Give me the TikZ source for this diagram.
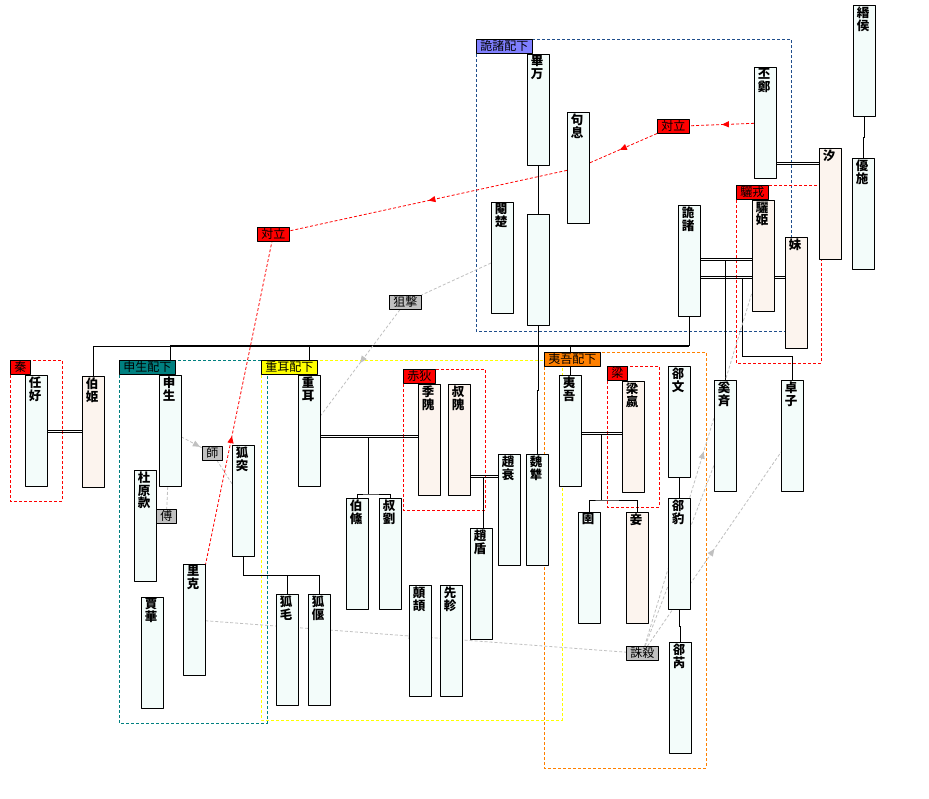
\documentclass[tikz,border=0pt]{standalone}
\usepackage{fontspec}
\newfontfamily\jp{Noto Sans CJK JP}
\usetikzlibrary{arrows.meta,decorations.markings,calc}
\definecolor{mancol}{HTML}{F3FCFA}
\definecolor{womancol}{HTML}{FCF4EE}
\definecolor{kishocol}{HTML}{8080FF}
\definecolor{kisholine}{HTML}{1F4E8C}
\definecolor{shinseicol}{HTML}{008080}
\definecolor{chojicol}{HTML}{FFFF00}
\definecolor{igocol}{HTML}{FF8000}
\definecolor{relcol}{HTML}{C0C0C0}
\pgfdeclarelayer{bg}
\pgfsetlayers{bg,main}
\def\bw{21.5}
\def\bh{111}
\tikzset{
  person/.style = {draw, line width = .8pt, fill = mancol, minimum width = \bw pt, minimum height = \bh pt, inner sep = 0pt, anchor = north west},
  man/.style = {person},
  woman/.style = {person, fill = womancol},
  nm/.style = {anchor = north, inner sep = 0pt, xshift = -1pt, yshift = -1.5pt, align = center, font = \jp\bfseries\fontsize{12.5}{12.8}\selectfont},
  tag/.style = {draw, line width = .8pt, anchor = north west, inner xsep = 4pt, inner ysep = 0pt, minimum height = 14pt, font = \jp\fontsize{12}{12}\selectfont},
  grp/.style = {dash pattern = on 3pt off 2pt, line width = .8pt},
  kin/.style = {line width = .8pt},
  marry/.style = {kin, preaction = {draw, kin, transform canvas = {yshift = 2pt}}},
  midarrow/.style = {postaction = {decorate}, decoration = {markings, mark = at position #1 with {\arrow{Triangle[length = 7pt, width = 6pt]}}}},
  midarrow/.default = .5,
  oppose/.style = {red, grp},
  rel/.style = {relcol, grp}
}
\begin{document}
\begin{tikzpicture}[x = 1pt, y = -1pt, line join = round]
\useasboundingbox (0,0) rectangle (929,798);
%グループの札
\node[tag, fill = kishocol] (t-kisho) at (476,39) {詭諸配下};
\node[tag, fill = shinseicol] (t-shinsei) at (119,360) {申生配下};
\node[tag, fill = chojicol] (t-choji) at (261,360) {重耳配下};
\node[tag, fill = igocol] (t-igo) at (544,352) {夷吾配下};
\node[tag, fill = red] (t-shin) at (10,360) {秦};
\node[tag, fill = red] (t-sekiteki) at (403,369) {赤狄};
\node[tag, fill = red] (t-ryo) at (607,366) {梁};
\node[tag, fill = red] (t-rijuu) at (736,185) {驪戎};
\node[tag, fill = red] (tai1) at (657,119) {対立};
\node[tag, fill = red] (tai2) at (257,227) {対立};
\node[tag, fill = relcol] (sogeki) at (389,295) {狙撃};
\node[tag, fill = relcol] (shi) at (202,446) {師};
\node[tag, fill = relcol] (fu) at (156,509) {傅};
\node[tag, fill = relcol] (chusatsu) at (626,646) {誅殺};
%人物
\node[man, label = {[nm]north:畢\\万}] (biman) at (527,54) {};
\node[man, label = {[nm]north:句\\息}] (koosoku) at (567,112) {};
\node[man, label = {[nm]north:閹\\楚}] (enso) at (491,202) {};
\node[man] (bw2) at (527,214) {};
\node[man, label = {[nm]north:詭\\諸}] (kisho) at (678,205) {};
\node[woman, label = {[nm]north:驪\\姫}] (riki) at (752,200) {};
\node[woman, label = {[nm]north:妹}] (imouto) at (785,237) {};
\node[woman, label = {[nm]north:汐}] (seki) at (819,148) {};
\node[man, label = {[nm]north:丕\\鄭}] (hitei) at (754,67) {};
\node[man, label = {[nm]north:緡\\侯}] (minko) at (853,5) {};
\node[man, label = {[nm]north:優\\施}] (yushi) at (852,158) {};
\node[man, label = {[nm]north:任\\好}] (ninko) at (25,375) {};
\node[woman, label = {[nm]north:伯\\姫}] (hakuki) at (82,376) {};
\node[man, label = {[nm]north:申\\生}] (shinsei) at (159,375) {};
\node[man, label = {[nm]north:杜\\原\\款}] (togenkan) at (134,470) {};
\node[man, label = {[nm]north:狐\\突}] (kotoku) at (232,445) {};
\node[man, label = {[nm]north:里\\克}] (riko) at (183,564) {};
\node[man, label = {[nm]north:賈\\華}] (kaka) at (141,597) {};
\node[man, label = {[nm]north:狐\\毛}] (komo) at (276,594) {};
\node[man, label = {[nm]north:狐\\偃}] (koen) at (308,594) {};
\node[man, label = {[nm]north:重\\耳}] (choji) at (298,375) {};
\node[woman, label = {[nm]north:季\\隗}] (kikai) at (418,384) {};
\node[woman, label = {[nm]north:叔\\隗}] (shukukai) at (448,384) {};
\node[man, label = {[nm]north:伯\\儵}] (hakushuku) at (346,498) {};
\node[man, label = {[nm]north:叔\\劉}] (shukuryu) at (379,498) {};
\node[man, label = {[nm]north:趙\\衰}] (chosui) at (498,454) {};
\node[man, label = {[nm]north:魏\\犨}] (gishu) at (526,454) {};
\node[man, label = {[nm]north:趙\\盾}] (choton) at (470,528) {};
\node[man, label = {[nm]north:顛\\頡}] (tenketsu) at (409,585) {};
\node[man, label = {[nm]north:先\\軫}] (senshin) at (440,585) {};
\node[man, label = {[nm]north:夷\\吾}] (igo) at (559,375) {};
\node[woman, label = {[nm]north:梁\\嬴}] (ryoei) at (622,381) {};
\node[man, label = {[nm]north:圉}] (gyo) at (578,512) {};
\node[woman, label = {[nm]north:妾}] (sho) at (626,512) {};
\node[man, label = {[nm]north:郤\\文}] (gekibun) at (668,366) {};
\node[man, label = {[nm]north:郤\\豹}] (gekihyo) at (668,498) {};
\node[man, label = {[nm]north:郤\\芮}] (gekizei) at (669,642) {};
\node[man, label = {[nm]north:奚\\斉}] (keisei) at (714,380) {};
\node[man, label = {[nm]north:卓\\子}] (takushi) at (781,380) {};
\begin{pgfonlayer}{bg}
\fill[white] (0,0) rectangle (929,798);
%グループの枠
\draw[grp, kisholine] (t-kisho.north west) rectangle (791,331);
\draw[grp, shinseicol] (t-shinsei.north west) rectangle (267,723);
\draw[grp, chojicol] (t-choji.north west) rectangle (562,720);
\draw[grp, igocol] (t-igo.north west) rectangle (706,768);
\draw[grp, red] (t-shin.north west) rectangle (62,501);
\draw[grp, red] (t-sekiteki.north west) rectangle (485,510);
\draw[grp, red] (t-ryo.north west) rectangle (659,507);
\draw[grp, red] (t-rijuu.north west) rectangle (821,363);
%婚姻
\coordinate (m-ninko) at (64,432);
\coordinate (m-choji) at (368,437);
\coordinate (m-chosui) at (483,477);
\coordinate (m-igo) at (601,434);
\coordinate (m-kisho1) at (725,260);
\coordinate (m-kisho2) at (742,278);
\coordinate (m-hitei) at (797,164);
\draw[marry] (ninko.east |- m-ninko) -- (hakuki.west |- m-ninko);
\draw[marry] (choji.east |- m-choji) -- (kikai.west |- m-choji);
\draw[marry] (shukukai.east |- m-chosui) -- (chosui.west |- m-chosui);
\draw[marry] (igo.east |- m-igo) -- (ryoei.west |- m-igo);
\draw[marry] (kisho.east |- m-kisho1) -- (riki.west |- m-kisho1);
\draw[marry] (kisho.east |- m-kisho2) -- (imouto.west |- m-kisho2);
\draw[marry] (hitei.east |- m-hitei) -- (seki.west |- m-hitei);
%親子
\coordinate (bus) at (0,346);
\draw[kin, line width = 2pt] (shinsei.north |- bus) -- (kisho.south |- bus);
\draw[kin] (hakuki.north) |- (shinsei.north |- bus);
\draw[kin] (kisho.south) -- (kisho.south |- bus);
\draw[kin] (shinsei.north) -- (shinsei.north |- bus);
\draw[kin] (choji.north) -- (choji.north |- bus);
\draw[kin] (igo.north) -- (igo.north |- bus);
\draw[kin] (m-choji) -- ++(0,57) coordinate (c-choji);
\draw[kin] (hakushuku.north) |- (c-choji) -| (shukuryu.north);
\draw[kin] (m-chosui) -- (m-chosui |- choton.north);
\draw[kin] (m-igo) -- ++(0,66) coordinate (c-igo);
\draw[kin] (gyo.north) |- (c-igo) -| (sho.north);
\draw[kin] (m-kisho1) -- (m-kisho1 |- keisei.north);
\draw[kin] (m-kisho2) -- ++(0,78) -| (takushi.north);
\draw[kin] (kotoku.south) -- ++(0,19) coordinate (c-kotoku) -| (koen.north);
\draw[kin] (c-kotoku -| komo.north) -- (komo.north);
\draw[kin] (biman.south) -- ++(0,25) -| (bw2.north);
\draw[kin] (bw2.south) -- ++(0,65) -| (gishu.north);
\draw[kin] (minko.south) -- ++(0,21) -| (yushi.north);
\draw[kin] (gekibun.south) -- (gekihyo.north);
\draw[kin] (gekihyo.south) -- ++(0,17) -| (gekizei.north);
%対立
\draw[oppose, midarrow] (hitei) -- (tai1);
\draw[oppose, midarrow = .55] (tai1) -- (koosoku);
\draw[oppose, midarrow] (koosoku) -- (tai2);
\draw[oppose, midarrow = .4] (riko) -- (tai2);
%その他の関係
\draw[rel, midarrow = .9] (shinsei) -- (shi);
\draw[rel] (kotoku) -- (shi);
\draw[rel] (shinsei) -- (fu);
\draw[rel] (enso) -- (sogeki);
\draw[rel, midarrow] (sogeki) -- (choji);
\draw[rel, midarrow] (riko) -- (chusatsu);
\draw[rel, midarrow = .55] (chusatsu) -- (riki);
\draw[rel, midarrow] (chusatsu) -- (keisei);
\draw[rel, midarrow] (chusatsu) -- (takushi);
\end{pgfonlayer}
\end{tikzpicture}
\end{document}
